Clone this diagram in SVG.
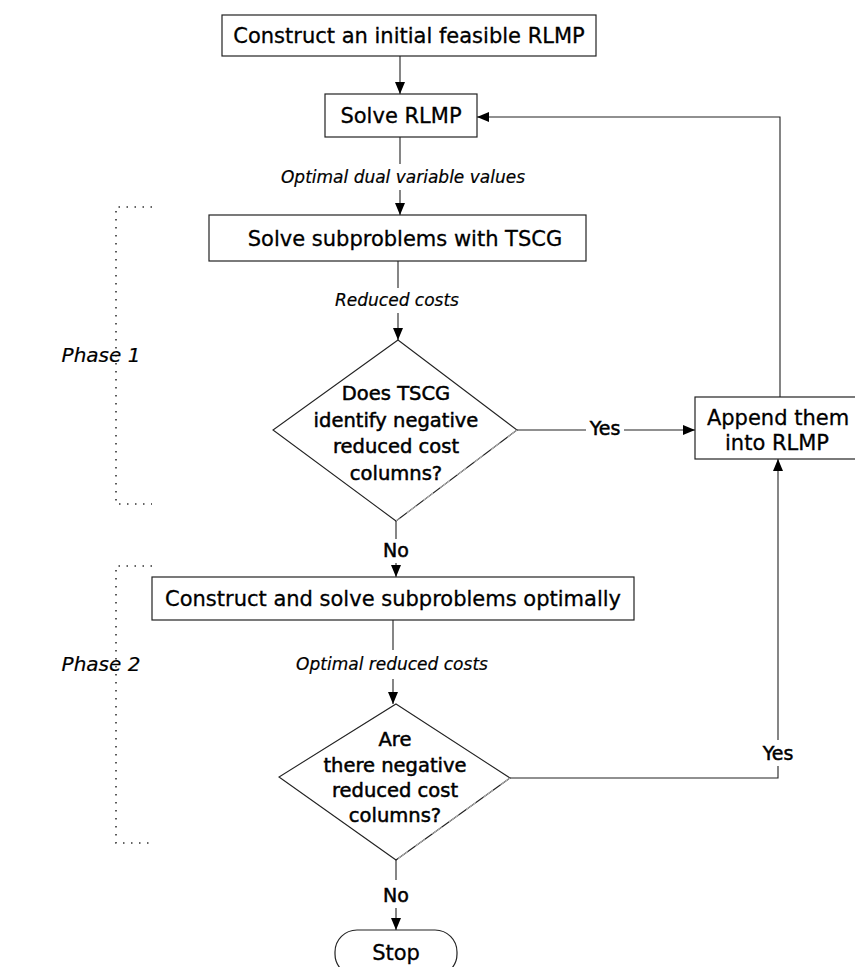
<svg xmlns="http://www.w3.org/2000/svg" width="855" height="967" viewBox="0 0 855 967">
  <defs>
    <marker id="arrow" markerUnits="userSpaceOnUse" markerWidth="12" markerHeight="10" refX="12" refY="5" orient="auto">
      <path d="M0,0 L12,5 L0,10 z" fill="#000"/>
    </marker>
  </defs>
  <style>
    .box { fill: #fff; stroke: #222; stroke-width: 1.2; }
    .dia { fill: #fff; stroke: #222; stroke-width: 1.1; }
    .faint { fill: none; stroke: #b8b8b8; stroke-width: 1; stroke-dasharray: 12 9; }
    .line { fill: none; stroke: #222; stroke-width: 1.1; }
    .arr { fill: none; stroke: #222; stroke-width: 1.1; marker-end: url(#arrow); }
    .dots { fill: none; stroke: #333; stroke-width: 1.6; stroke-dasharray: 1.5 6.5; }
    .t { font-family: "DejaVu Sans", "Liberation Sans", sans-serif; font-size: 21px; fill: #000; text-anchor: middle; stroke: #000; stroke-width: 0.3; }
    .q { font-family: "DejaVu Sans", "Liberation Sans", sans-serif; font-size: 19.5px; fill: #000; text-anchor: middle; stroke: #000; stroke-width: 0.5; }
    .yn { font-family: "DejaVu Sans", "Liberation Sans", sans-serif; font-size: 19px; fill: #000; text-anchor: middle; stroke: #000; stroke-width: 0.5; }
    .lab { font-family: "DejaVu Sans", "Liberation Sans", sans-serif; font-size: 17px; font-style: italic; fill: #000; text-anchor: middle; stroke: #000; stroke-width: 0.2; }
    .phase { font-family: "DejaVu Sans", "Liberation Sans", sans-serif; font-size: 20px; font-style: italic; fill: #000; text-anchor: middle; stroke: #000; stroke-width: 0.2; }
  </style>

  <!-- phase brackets -->
  <g id="phase1">
    <path class="dots" d="M152,207 L116,207 L116,504 L152,504"/>
    <text class="phase" x="101" y="362">Phase 1</text>
  </g>
  <g id="phase2">
    <path class="dots" d="M152,566 L116,566 L116,843 L152,843"/>
    <text class="phase" x="101" y="671">Phase 2</text>
  </g>

  <!-- connectors -->
  <g id="connectors">
    <path class="arr" d="M400,56 L400,94"/>
    <path class="line" d="M400,137 L400,164"/>
    <path class="arr" d="M400,190 L400,215"/>
    <path class="line" d="M398,261 L398,288"/>
    <path class="arr" d="M398,313 L398,340"/>
    <path class="line" d="M517,430 L586,430"/>
    <path class="arr" d="M624,430 L695,430"/>
    <path class="line" d="M396,521 L396,539"/>
    <path class="arr" d="M396,563 L396,577"/>
    <path class="line" d="M393,620 L393,650"/>
    <path class="arr" d="M393,679 L393,704"/>
    <path class="line" d="M510,778 L778,778 L778,766"/>
    <path class="arr" d="M778,740 L778,459"/>
    <path class="arr" d="M780,397 L780,117 L477,117"/>
    <path class="line" d="M396,860 L396,880"/>
    <path class="arr" d="M396,908 L396,930"/>
    <text class="lab" x="403" y="183">Optimal dual variable values</text>
    <text class="lab" x="397" y="306">Reduced costs</text>
    <text class="lab" x="392" y="670">Optimal reduced costs</text>
    <text class="yn" x="605" y="435">Yes</text>
    <text class="yn" x="778" y="760">Yes</text>
    <text class="yn" x="396" y="557">No</text>
    <text class="yn" x="396" y="902">No</text>
  </g>

  <!-- nodes -->
  <g id="init">
    <rect class="box" x="222" y="15" width="374" height="41"/>
    <text class="t" x="409" y="43">Construct an initial feasible RLMP</text>
  </g>
  <g id="solve-rlmp">
    <rect class="box" x="325" y="94" width="152" height="43"/>
    <text class="t" x="401" y="123">Solve RLMP</text>
  </g>
  <g id="tscg">
    <rect class="box" x="209" y="215" width="377" height="46"/>
    <text class="t" x="405" y="246">Solve subproblems with TSCG</text>
  </g>
  <g id="check1">
    <path class="dia" d="M398,340 L517,430 L396,521 L273,430 z"/>
    <path class="faint" d="M517,430 L396,521"/>
    <text class="q" x="396" y="400">Does TSCG</text>
    <text class="q" x="396" y="427">identify negative</text>
    <text class="q" x="396" y="453">reduced cost</text>
    <text class="q" x="396" y="480">columns?</text>
  </g>
  <g id="append">
    <rect class="box" x="695" y="397" width="170" height="62"/>
    <text class="t" x="778" y="425">Append them</text>
    <text class="t" x="777" y="450">into RLMP</text>
  </g>
  <g id="exact">
    <rect class="box" x="152" y="577" width="482" height="43"/>
    <text class="t" x="393" y="606">Construct and solve subproblems optimally</text>
  </g>
  <g id="check2">
    <path class="dia" d="M396,704 L510,778 L396,860 L279,777 z"/>
    <path class="faint" d="M510,778 L396,860"/>
    <text class="q" x="395" y="746">Are</text>
    <text class="q" x="395" y="772">there negative</text>
    <text class="q" x="395" y="797">reduced cost</text>
    <text class="q" x="395" y="822">columns?</text>
  </g>
  <g id="stop">
    <rect class="box" x="335" y="930" width="122" height="46" rx="22" ry="22"/>
    <text class="t" x="396" y="960">Stop</text>
  </g>
</svg>
